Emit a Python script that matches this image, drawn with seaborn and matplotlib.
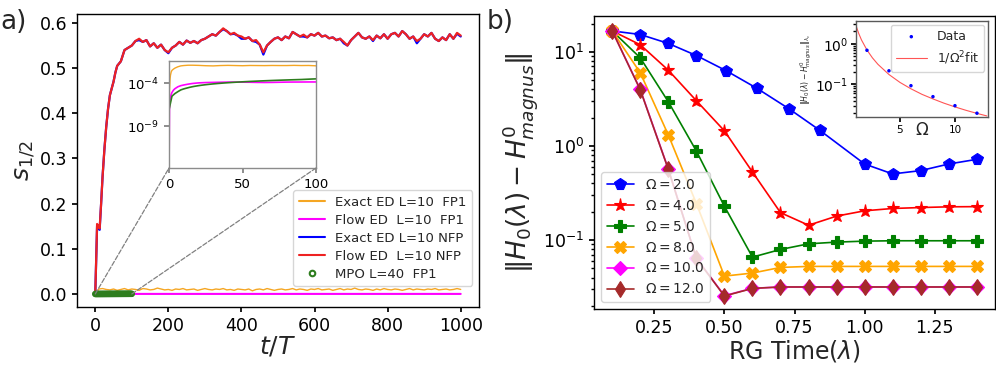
import numpy as np
import matplotlib
matplotlib.use("Agg")
import matplotlib.pyplot as plt
import seaborn as sns
from matplotlib.patches import ConnectionPatch
from matplotlib.lines import Line2D

sns.set_theme(style="ticks", rc={
    "axes.edgecolor": "black", "xtick.color": "black", "ytick.color": "black",
    "axes.linewidth": 1.0, "xtick.major.size": 3.5, "ytick.major.size": 3.5,
    "xtick.minor.size": 2, "ytick.minor.size": 2,
})
plt.rcParams["font.family"] = ["DejaVu Sans"]
plt.rcParams["mathtext.fontset"] = "dejavusans"

# ---------------- panel a) data ----------------
t_main = np.concatenate([[0, 3, 5, 8, 12, 16, 20, 25, 30, 35, 40, 45, 50, 55, 60, 70, 80, 90],
                         np.arange(100, 1001, 10)])
flow_nfp = [0.0, 0.09, 0.155, 0.15, 0.145, 0.20, 0.26, 0.32, 0.37, 0.41, 0.44, 0.455, 0.47, 0.49, 0.505, 0.515, 0.54, 0.545,
            0.55, 0.56, 0.565, 0.558, 0.562, 0.548, 0.555, 0.545, 0.552, 0.54, 0.535, 0.545, 0.55, 0.558, 0.552, 0.561,
            0.556, 0.56, 0.555, 0.562, 0.565, 0.57, 0.575, 0.572, 0.58, 0.588, 0.582, 0.575, 0.578, 0.572, 0.57, 0.565,
            0.568, 0.56, 0.562, 0.552, 0.535, 0.55, 0.558, 0.565, 0.568, 0.562, 0.57, 0.566, 0.58, 0.575, 0.57, 0.574,
            0.568, 0.575, 0.572, 0.578, 0.57, 0.572, 0.566, 0.568, 0.562, 0.565, 0.558, 0.55, 0.562, 0.57, 0.578, 0.568,
            0.565, 0.57, 0.562, 0.572, 0.566, 0.575, 0.565, 0.575, 0.578, 0.57, 0.582, 0.575, 0.565, 0.57, 0.56, 0.565,
            0.575, 0.57, 0.578, 0.565, 0.56, 0.568, 0.562, 0.575, 0.565, 0.578, 0.572]
exact_nfp = [0.0, 0.09, 0.15, 0.145, 0.142, 0.20, 0.26, 0.32, 0.37, 0.41, 0.44, 0.455, 0.47, 0.49, 0.505, 0.515, 0.54, 0.545,
             0.55, 0.56, 0.562, 0.558, 0.562, 0.548, 0.555, 0.545, 0.552, 0.54, 0.533, 0.545, 0.55, 0.558, 0.552, 0.561,
             0.556, 0.56, 0.555, 0.562, 0.565, 0.57, 0.575, 0.572, 0.58, 0.586, 0.582, 0.575, 0.576, 0.572, 0.565, 0.565,
             0.568, 0.56, 0.558, 0.552, 0.53, 0.55, 0.558, 0.565, 0.568, 0.562, 0.57, 0.566, 0.58, 0.575, 0.57, 0.57,
             0.568, 0.575, 0.572, 0.578, 0.57, 0.572, 0.566, 0.568, 0.562, 0.565, 0.555, 0.55, 0.562, 0.57, 0.578, 0.568,
             0.565, 0.57, 0.56, 0.572, 0.566, 0.575, 0.565, 0.575, 0.578, 0.57, 0.582, 0.575, 0.565, 0.57, 0.555, 0.565,
             0.575, 0.57, 0.578, 0.565, 0.56, 0.568, 0.562, 0.575, 0.565, 0.576, 0.57]
t_orange = np.arange(0, 1001, 10)
exact_fp1 = [0.0, 0.011, 0.012, 0.010, 0.009, 0.011, 0.008, 0.010, 0.012, 0.009, 0.011, 0.010, 0.008, 0.012, 0.011, 0.009,
             0.010, 0.013, 0.011, 0.009, 0.010, 0.008, 0.011, 0.010, 0.012, 0.009, 0.010, 0.011, 0.008, 0.010, 0.012,
             0.010, 0.009, 0.011, 0.010, 0.012, 0.009, 0.010, 0.008, 0.011, 0.010, 0.009, 0.011, 0.007, 0.010, 0.011,
             0.009, 0.012, 0.010, 0.008, 0.010, 0.011, 0.009, 0.010, 0.012, 0.009, 0.011, 0.010, 0.008, 0.011, 0.010,
             0.012, 0.009, 0.010, 0.011, 0.008, 0.010, 0.012, 0.009, 0.011, 0.010, 0.013, 0.010, 0.009, 0.011, 0.010,
             0.008, 0.011, 0.009, 0.012, 0.010, 0.009, 0.011, 0.010, 0.008, 0.010, 0.012, 0.009, 0.011, 0.010, 0.009,
             0.011, 0.010, 0.012, 0.009, 0.010, 0.011, 0.009, 0.010, 0.012, 0.010]
t_flow_fp1 = [0, 100, 200, 300, 400, 500, 600, 700, 800, 900, 1000]
flow_fp1 = [1e-15, 1.3e-4, 1.2e-4, 1.3e-4, 1.2e-4, 1.3e-4, 1.2e-4, 1.3e-4, 1.3e-4, 1.2e-4, 1.3e-4]
t_mpo = np.arange(0, 101, 2)
mpo_fp1 = [8e-8, 3e-6, 6e-6, 1e-5, 1.6e-5, 2.1e-5, 2.6e-5, 3.2e-5, 3.8e-5, 4.4e-5, 5e-5, 5.6e-5, 6.2e-5, 6.8e-5,
           7.4e-5, 8e-5, 8.6e-5, 9.2e-5, 9.8e-5, 1.04e-4, 1.1e-4, 1.16e-4, 1.22e-4, 1.28e-4, 1.34e-4, 1.4e-4,
           1.46e-4, 1.52e-4, 1.58e-4, 1.64e-4, 1.7e-4, 1.76e-4, 1.82e-4, 1.88e-4, 1.94e-4, 2.0e-4, 2.06e-4,
           2.12e-4, 2.18e-4, 2.24e-4, 2.3e-4, 2.36e-4, 2.42e-4, 2.48e-4, 2.54e-4, 2.6e-4, 2.7e-4, 2.8e-4,
           2.9e-4, 3.0e-4, 3.1e-4]
# inset (log) curves at fine resolution
t_ins = [0, 0.3, 0.7, 1, 1.5, 2, 3, 4, 6, 8, 10, 13, 16, 20, 25, 30, 35, 40, 45, 50, 55, 60, 65, 70, 75, 80, 85, 90, 95, 100]
exact_fp1_ins = [2.8e-7, 1e-5, 3e-4, 8.5e-4, 2e-3, 3e-3, 4.2e-3, 5.5e-3, 7.9e-3, 1e-2, 1.1e-2, 1.2e-2, 1.2e-2, 1.15e-2,
                 1.05e-2, 1e-2, 1.1e-2, 1.15e-2, 1.1e-2, 1.05e-2, 1.12e-2, 1.1e-2, 1.08e-2, 1.12e-2, 1.1e-2, 1.1e-2,
                 1.15e-2, 1.1e-2, 1.12e-2, 1.02e-2]
flow_fp1_ins = [1e-15, 1e-7, 1e-6, 2e-6, 5e-6, 8e-6, 1.5e-5, 2.2e-5, 3.7e-5, 5e-5, 6e-5, 7.5e-5, 9e-5, 1.05e-4,
                1.15e-4, 1.2e-4, 1.25e-4, 1.3e-4, 1.3e-4, 1.28e-4, 1.25e-4, 1.2e-4, 1.18e-4, 1.2e-4, 1.25e-4,
                1.3e-4, 1.32e-4, 1.33e-4, 1.35e-4, 1.35e-4]

# ---------------- panel b) data ----------------
lam = [0.1, 0.2, 0.3, 0.4, 0.5, 0.6, 0.7, 0.8, 0.9, 1.0, 1.1, 1.2, 1.3, 1.4]
lam_om2 = [0.1, 0.2, 0.3, 0.4, 0.505, 0.615, 0.73, 0.84, 1.0, 1.1, 1.2, 1.3, 1.4]
err_om2 = [16.7, 15.3, 12.3, 9.15, 6.34, 4.12, 2.49, 1.47, 0.644, 0.505, 0.548, 0.644, 0.722]
err_om4 = [16.7, 11.9, 6.39, 3.03, 1.45, 0.530, 0.196, 0.144, 0.180, 0.205, 0.217, 0.222, 0.226, 0.227]
err_om5 = [16.7, 8.64, 2.95, 0.885, 0.229, 0.066, 0.0796, 0.0914, 0.0953, 0.0976, 0.0985, 0.0985, 0.0985, 0.0985]
err_om8 = [16.7, 5.99, 1.31, 0.245, 0.0415, 0.0447, 0.0513, 0.0526, 0.0526, 0.0526, 0.0526, 0.0526, 0.0526, 0.0526]
err_om10 = [16.7, 3.99, 0.570, 0.0644, 0.0257, 0.0308, 0.0318, 0.0318, 0.0318, 0.0318, 0.0318, 0.0318, 0.0318, 0.0318]
err_om12 = [16.7, 3.95, 0.565, 0.0640, 0.0255, 0.0307, 0.0318, 0.0318, 0.0318, 0.0318, 0.0318, 0.0318, 0.0318, 0.0318]
omega_ins = [2, 4, 6, 8, 10, 12]
err_ins = [0.69, 0.216, 0.093, 0.050, 0.030, 0.0196]
omega_fit = [1, 1.25, 1.5, 2, 2.5, 3, 4, 5, 6, 7, 8, 9, 10, 11, 12, 12.9]
fit_vals = [2.8, 1.79, 1.24, 0.70, 0.448, 0.311, 0.175, 0.112, 0.078, 0.057, 0.044, 0.0346, 0.028, 0.0231, 0.0194, 0.0168]

fig = plt.figure(figsize=(9.96, 3.66), dpi=100)
ax1 = fig.add_axes([0.0773, 0.161, 0.4036, 0.801])
ax2 = fig.add_axes([0.5964, 0.156, 0.4026, 0.800])

# ---- panel a
c_or, c_mg, c_gr = "#f5a623", "magenta", "#2e7d1e"
sns.lineplot(x=t_orange, y=exact_fp1, ax=ax1, color=c_or, lw=1.0)
sns.lineplot(x=t_flow_fp1, y=flow_fp1, ax=ax1, color=c_mg, lw=1.5)
sns.lineplot(x=t_main, y=exact_nfp, ax=ax1, color="blue", lw=1.6)
sns.lineplot(x=t_main, y=flow_nfp, ax=ax1, color="#ee2222", lw=1.6)
ax1.scatter(t_mpo, mpo_fp1, marker="o", s=12, facecolors="none", edgecolors=c_gr, linewidths=1.2, zorder=3)
ax1.set_xlim(-50, 1050)
ax1.set_ylim(-0.029, 0.62)
ax1.set_xticks([0, 200, 400, 600, 800, 1000])
ax1.set_yticks([0.0, 0.1, 0.2, 0.3, 0.4, 0.5, 0.6])
ax1.tick_params(labelsize=12.5)
ax1.set_xlabel("$t/T$", fontsize=18, labelpad=0)
ax1.set_ylabel("$s_{1/2}$", fontsize=18, labelpad=2)

handles = [Line2D([], [], color=c_or, lw=1.5), Line2D([], [], color=c_mg, lw=1.5),
           Line2D([], [], color="blue", lw=1.5), Line2D([], [], color="#ee2222", lw=1.5),
           Line2D([], [], ls="none", marker="o", ms=4, mfc="none", mec=c_gr, mew=1.5)]
labels = ["Exact ED L=10  FP1", "Flow ED  L=10  FP1", "Exact ED L=10 NFP", "Flow ED  L=10 NFP", "MPO L=40  FP1"]
ax1.legend(handles, labels, loc="lower right", bbox_to_anchor=(0.983, 0.072), borderaxespad=0,
           fontsize=9.5, frameon=True, framealpha=0.8, edgecolor="0.8", labelspacing=0.38)

ins1 = fig.add_axes([0.1697, 0.541, 0.1476, 0.292])
sns.lineplot(x=t_ins, y=exact_fp1_ins, ax=ins1, color=c_or, lw=1.0)
sns.lineplot(x=t_ins, y=flow_fp1_ins, ax=ins1, color=c_mg, lw=1.2)
sns.lineplot(x=t_mpo, y=mpo_fp1, ax=ins1, color=c_gr, lw=1.2)
ins1.set_yscale("log")
ins1.set_xlim(0, 100)
ins1.set_ylim(1.3e-14, 3.6e-2)
ins1.set_xticks([0, 50, 100])
ins1.set_yticks([1e-9, 1e-4])
ins1.yaxis.set_minor_locator(matplotlib.ticker.NullLocator())
ins1.tick_params(labelsize=9.5, color="0.5")
for s in ins1.spines.values():
    s.set_edgecolor("0.55")

for xa, xb in [((0, 0), (0, 0)), ((100, 0), (1, 0))]:
    con = ConnectionPatch(xyA=xa, coordsA=ax1.transData, xyB=xb, coordsB=ins1.transAxes,
                          color="0.5", ls="--", lw=0.9)
    fig.add_artist(con)

# ---- panel b
series = [(lam_om2, err_om2, "blue", "p", 8.5, r"$\Omega=2.0$"),
          (lam, err_om4, "red", "*", 9.5, r"$\Omega=4.0$"),
          (lam, err_om5, "green", "P", 8.5, r"$\Omega=5.0$"),
          (lam, err_om8, "orange", "X", 8.5, r"$\Omega=8.0$"),
          (lam, err_om10, "magenta", "D", 7.5, r"$\Omega=10.0$"),
          (lam, err_om12, "brown", "d", 8.5, r"$\Omega=12.0$")]
for xs, ys, col, mk, ms, lab in series:
    sns.lineplot(x=xs, y=ys, ax=ax2, color=col, marker=mk, markersize=ms, lw=1.2,
                 markeredgecolor=col, markeredgewidth=0.8, label=lab)
ax2.set_yscale("log")
ax2.set_xlim(0.035, 1.465)
ax2.set_ylim(0.0186, 24)
ax2.set_xticks([0.25, 0.5, 0.75, 1.0, 1.25])
ax2.set_xticklabels(["0.25", "0.50", "0.75", "1.00", "1.25"])
ax2.tick_params(labelsize=12.5)
ax2.set_xlabel(r"RG Time($\lambda$)", fontsize=17, labelpad=1)
ax2.set_ylabel(r"$\|H_0(\lambda) - H^0_{magnus}\|$", fontsize=19, labelpad=2)
ax2.legend(loc="lower left", fontsize=10, frameon=True, framealpha=0.8, edgecolor="0.8")

ins2 = fig.add_axes([0.8594, 0.680, 0.1325, 0.262])
sns.scatterplot(x=omega_ins, y=err_ins, ax=ins2, color="blue", marker=".", s=25, edgecolor="none", label="Data", zorder=3)
sns.lineplot(x=omega_fit, y=fit_vals, ax=ins2, color="#ff5555", lw=0.8, label=r"$1/\Omega^2$fit")
ins2.set_yscale("log")
ins2.set_xlim(1, 13)
ins2.set_ylim(0.0157, 3.57)
ins2.set_xticks([5, 10])
ins2.tick_params(axis="x", labelsize=7.5, pad=2)
ins2.tick_params(axis="y", labelsize=10, pad=2)
ins2.set_xlabel(r"$\Omega$", fontsize=12)
ins2.xaxis.set_label_coords(0.5, -0.04)
ins2.set_ylabel(r"$\|H_0(\lambda) - H^0_{magnus}\|_{\lambda_c}$", fontsize=5.5, labelpad=1)
for s in ins2.spines.values():
    s.set_edgecolor("0.35")
ins2.legend(loc="upper right", fontsize=9, frameon=True, framealpha=0.8, edgecolor="0.8",
            handlelength=2.5, borderaxespad=0.3)

fig.text(0.0, 0.975, "a)", fontsize=19, va="top", ha="left")
fig.text(0.489, 0.975, "b)", fontsize=19, va="top", ha="left")

fig.savefig("out.png", dpi=100)
